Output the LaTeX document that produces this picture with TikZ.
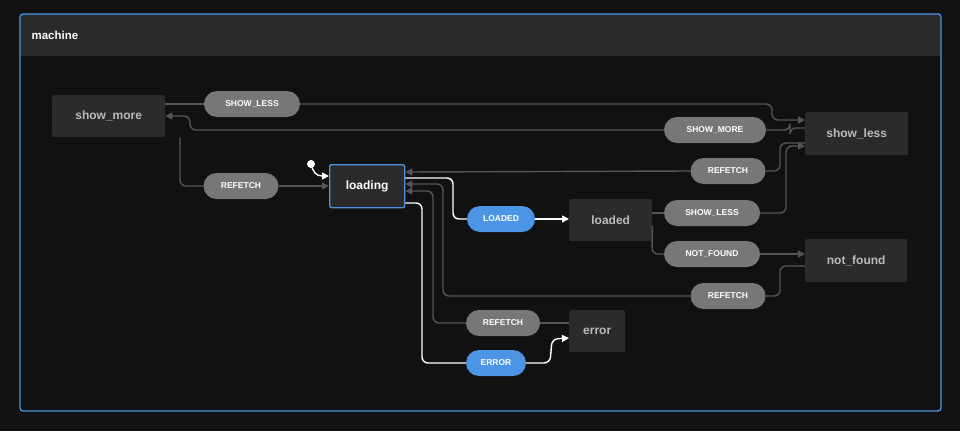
\documentclass[tikz,border=0pt]{standalone}
\usepackage{fontspec}
\setmainfont{Liberation Sans}
\usetikzlibrary{arrows.meta}
\definecolor{bg}{HTML}{111111}
\definecolor{hdr}{HTML}{2A2A2A}
\definecolor{st}{HTML}{2B2B2B}
\definecolor{blu}{HTML}{4C94E4}
\definecolor{pill}{HTML}{777777}
\definecolor{edge}{HTML}{555555}
\definecolor{stt}{HTML}{BBBBBB}
\begin{document}
\begin{tikzpicture}[x=1pt,y=-1pt,
  state/.style={fill=st,rounded corners=2pt,text=stt,font=\bfseries\fontsize{12}{14}\selectfont,anchor=north west,inner sep=0pt},
  ev/.style={fill=pill,rounded corners=13pt,text=white,font=\bfseries\fontsize{8.5}{10}\selectfont,minimum height=26pt,inner sep=0pt},
  evb/.style={ev,fill=blu},
  e/.style={draw=edge,line width=1.4pt,rounded corners=6pt},
  ea/.style={e,-{Triangle[length=7pt,width=7pt]}},
  w/.style={draw=white,line width=1.4pt,rounded corners=6pt},
  wa/.style={w,-{Triangle[length=7pt,width=7pt]}}]
\fill[bg] (0,0) rectangle (960,431);
\useasboundingbox (0,0) rectangle (960,431);
\begin{scope}
\clip[rounded corners=3pt] (20,14) rectangle (941,411);
\fill[hdr] (20,14) rectangle (941,56);
\end{scope}
\draw[blu,line width=1.3pt,rounded corners=3pt] (20,14) rectangle (941,411);
\node[text=white,font=\bfseries\fontsize{11.5}{13}\selectfont,anchor=west] (title) at (28,35) {machine};
% states
\node[state,minimum width=113pt,minimum height=42pt] (showmore) at (52,95) {show\_more};
\node[state,minimum width=103pt,minimum height=43pt] (showless) at (805,112) {show\_less};
\node[state,minimum width=75pt,minimum height=43pt,draw=blu,line width=1.3pt,text=white] (loading) at (329,164) {loading};
\node[state,minimum width=83pt,minimum height=42pt] (loaded) at (569,199) {loaded};
\node[state,minimum width=102pt,minimum height=43pt] (notfound) at (805,239) {not\_found};
\node[state,minimum width=56pt,minimum height=42pt] (error) at (569,310) {error};
% events
\node[ev,minimum width=96pt] (e1) at (252,104) {SHOW\_LESS};
\node[ev,minimum width=102pt] (e2) at (715,130) {SHOW\_MORE};
\node[ev,minimum width=75pt] (e3) at (728,171) {REFETCH};
\node[ev,minimum width=75pt] (e4) at (241,186) {REFETCH};
\node[evb,minimum width=68pt] (e5) at (501,219) {LOADED};
\node[ev,minimum width=96pt] (e6) at (712,213) {SHOW\_LESS};
\node[ev,minimum width=96pt] (e7) at (712,254) {NOT\_FOUND};
\node[ev,minimum width=75pt] (e8) at (728,296) {REFETCH};
\node[ev,minimum width=74pt] (e9) at (503,323) {REFETCH};
\node[evb,minimum width=60pt] (e10) at (496,363) {ERROR};
% edges
\draw[e] (showmore.east |- 0,104) -- (e1.west);
\draw[ea] (e1.east) -- (772,104) -- (772,120) -- (showless.west |- 0,120);
\draw[e] (showless.west |- 0,128) -- (790,128) -- (790,130) -- (e2.east);
\draw[ea] (e2.west) -- (190,130) -- (190,116) -- (showmore.east |- 0,116);
\draw[e] (showless.west |- 0,143) -- (780,143) -- (780,171) -- (e3.east);
\draw[ea] (e3.west) -- (loading.east |- 0,172);
\draw[e] (showmore.south -| 180,0) -- (180,186) -- (e4.west);
\draw[ea] (e4.east) -- (loading.west |- 0,186);
\coordinate (init) at (311,164);
\fill[white] (init) circle (4pt);
\draw[wa] (init) .. controls (313,172) and (316,176) .. (loading.west |- 0,176);
\draw[w] (loading.east |- 0,178) -- (453,178) -- (453,219) -- (e5.west);
\draw[wa] (e5.east) -- (loaded.west |- e5);
\draw[e] (loaded.east |- e6) -- (e6.west);
\draw[ea] (e6.east) -- (786,213) -- (786,146) -- (showless.west |- 0,146);
\draw[e] (loaded.east |- 0,226) -- (652,254) -- (e7.west);
\draw[ea] (e7.east) -- (notfound.west |- e7);
\draw[e] (notfound.west |- 0,266) -- (780,266) -- (780,296) -- (e8.east);
\draw[ea] (e8.west) -- (443,296) -- (443,184) -- (loading.east |- 0,184);
\draw[e] (error.west |- e9) -- (e9.east);
\draw[ea] (e9.west) -- (433,323) -- (433,191) -- (loading.east |- 0,191);
\draw[w] (loading.east |- 0,203) -- (422,203) -- (422,363) -- (e10.west);
\draw[wa] (e10.east) -- (550,363) -- (552,339) -- (error.west |- 0,338);
\end{tikzpicture}
\end{document}
